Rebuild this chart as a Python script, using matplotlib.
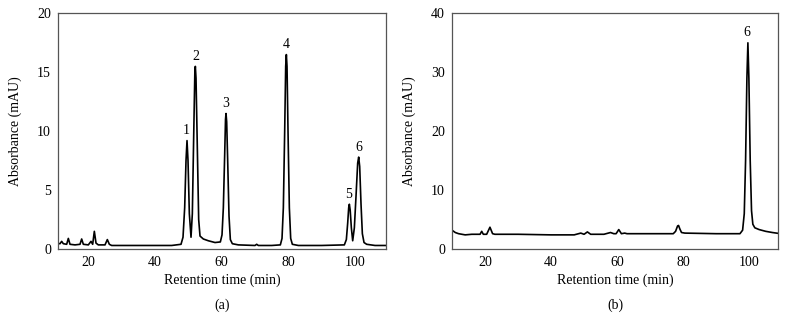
import matplotlib.pyplot as plt

plt.rcParams["font.family"] = ["Liberation Serif", "DejaVu Serif"]

# (a) 标准品色谱图 —— 点
time_a = [10, 11.5, 12, 12.5, 13.5, 14, 14.5, 16, 17.5, 18, 18.5, 20, 20.8, 21.3,
          21.8, 22.3, 23, 25, 25.7, 26.3, 27, 30, 40, 45, 47.8, 48.4, 48.9, 49.3,
          49.6, 49.9, 50.3, 50.8, 51.2, 51.6, 51.95, 52.1, 52.3, 52.7, 53.1, 53.5,
          54.5, 56, 58, 59.6, 60.1, 60.5, 60.9, 61.15, 61.3, 61.5, 61.8, 62.2, 62.6,
          63.2, 65, 70, 70.5, 71, 75, 77.6, 78.1, 78.5, 78.9, 79.2, 79.4, 79.6,
          79.9, 80.3, 80.7, 81.2, 83, 90, 96.8, 97.4, 97.8, 98.1, 98.3, 98.55, 98.9,
          99.3, 99.8, 100.3, 100.8, 101.1, 101.4, 101.8, 102.2, 102.7, 103.5, 106,
          109.5]
abs_a = [0.5, 0.45, 0.65, 0.45, 0.4, 0.9, 0.4, 0.35, 0.4, 0.85, 0.4, 0.35, 0.65, 0.4,
         1.5, 0.5, 0.35, 0.35, 0.8, 0.4, 0.3, 0.3, 0.3, 0.3, 0.4, 1.0, 3.5, 7.5,
         9.2, 7.5, 3.0, 1.0, 3.0, 9.5, 15.0, 15.5, 14.5, 8.5, 2.5, 1.1,
         0.85, 0.7, 0.55, 0.6, 1.2, 3.5, 8.0, 11.0, 11.5, 10.8, 7.5, 2.8, 0.8,
         0.45, 0.35, 0.3, 0.4, 0.3, 0.3, 0.35, 0.9, 3.5, 10.0, 15.5, 16.5, 15.5,
         10.0, 3.5, 0.9, 0.4, 0.3, 0.3, 0.35, 0.8, 2.2, 3.5, 3.8, 3.3, 1.8,
         0.7, 1.8, 4.5, 7.3, 7.8, 7.0, 3.8, 1.3, 0.55, 0.4, 0.3,
         0.3]

# (b) 样品色谱图
time_b = [10, 11, 12, 14, 16, 17, 18.5, 19, 19.5, 20.5, 21.5, 22.3, 23, 30, 40, 47,
          49, 50, 51, 52, 56, 58, 59, 59.7, 60.5, 61.3, 62.3, 63, 70, 76, 77.0,
          77.7, 78.3, 78.6, 79.0, 79.5, 80.5, 90, 97.2, 98.0, 98.5, 98.9, 99.3,
          99.6, 99.9, 100.3, 100.7, 101.1, 101.7, 103, 105, 107, 109.5]
abs_b = [3.2, 2.8, 2.6, 2.4, 2.5, 2.5, 2.5, 3.0, 2.5, 2.5, 3.7, 2.6, 2.5, 2.5, 2.4, 2.4,
         2.7, 2.5, 2.9, 2.5, 2.5, 2.8, 2.6, 2.6, 3.3, 2.6, 2.7, 2.6, 2.6, 2.6, 2.6,
         3.0, 3.9, 4.0, 3.4, 2.8, 2.7, 2.6, 2.6, 3.2, 6.0, 15.0, 29.0,
         35.0, 29.0, 15.0, 6.5, 4.2, 3.6, 3.3, 3.0, 2.8, 2.6]

# 峰标号
labels_a = ["1", "2", "3", "4", "5", "6"]
label_x_a = [49.4, 52.2, 61.3, 79.4, 98.2, 101.2]
label_y_a = [9.2, 15.5, 11.5, 16.5, 3.8, 7.8]
labels_b = ["6"]
label_x_b = [99.4]
label_y_b = [35.0]

fig = plt.figure(figsize=(7.87, 3.31), dpi=100)
ax1 = fig.add_axes([0.0737, 0.2477, 0.4168, 0.712])
ax2 = fig.add_axes([0.5743, 0.2477, 0.4142, 0.712])

panels = [
    (ax1, time_a, abs_a, labels_a, label_x_a, label_y_a, 20, 0.3, "(a)", (10.9, 109.3)),
    (ax2, time_b, abs_b, labels_b, label_x_b, label_y_b, 40, 0.6, "(b)", (10, 108.7)),
]

for ax, t, a, labs, lx, ly, ymax, dy, tag, xl in panels:
    ax.plot(t, a, color="black", linewidth=1.2)
    for s, x, y in zip(labs, lx, ly):
        ax.text(x, y + dy, s, ha="center", va="bottom", fontsize=10)
    ax.set_xlim(*xl)
    ax.set_ylim(0, ymax)
    ax.set_xticks([20, 40, 60, 80, 100])
    ax.set_yticks(range(0, ymax + 1, ymax // 4))
    ax.tick_params(length=0, labelsize=10, pad=5)
    for sp in ax.spines.values():
        sp.set_linewidth(0.9)
        sp.set_color("#555555")
    ax.set_xlabel("Retention time (min)", fontsize=10, labelpad=3)
    ax.set_ylabel("Absorbance (mAU)", fontsize=10, labelpad=11)
    ax.text(0.5, -0.21, tag, transform=ax.transAxes, ha="center", va="top", fontsize=10)

fig.savefig("out.png", dpi=100)
